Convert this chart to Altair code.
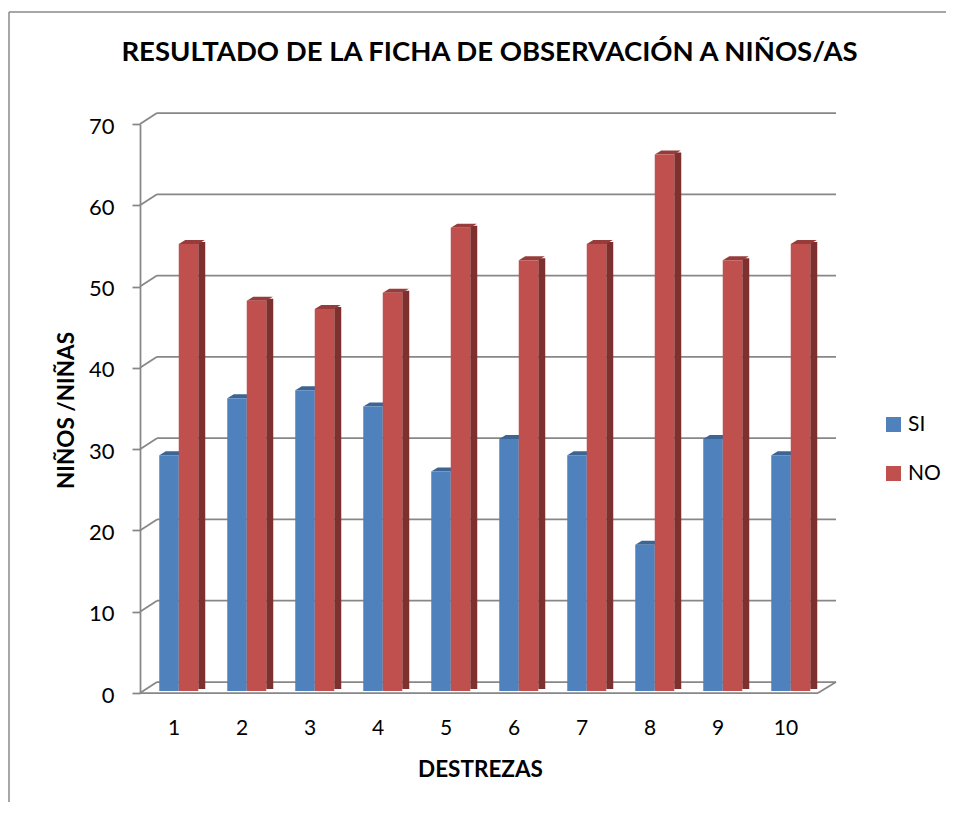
import altair as alt
import pandas as pd

categories = ["1", "2", "3", "4", "5", "6", "7", "8", "9", "10"]
si_values = [29, 36, 37, 35, 27, 31, 29, 18, 31, 29]
no_values = [55, 48, 47, 49, 57, 53, 55, 66, 53, 55]
series_names = ["SI", "NO"]
y_ticks = [0, 10, 20, 30, 40, 50, 60, 70]
title_text = "RESULTADO DE LA FICHA DE OBSERVACIÓN A NIÑOS/AS"
x_title = "DESTREZAS"
y_title = "NIÑOS /NIÑAS"

front_colors = ["#4F81BD", "#C0504D"]
side_colors = ["#345A88", "#7E302F"]
top_colors = ["#3C6494", "#973C3A"]

FONT = "Lato"
GRAY = "#878787"
W, H = 680, 569

rows = []
for i, c in enumerate(categories):
    rows.append({"cat": c, "serie": "SI", "value": si_values[i]})
    rows.append({"cat": c, "serie": "NO", "value": no_values[i]})
df = pd.DataFrame(rows)
grid_df = pd.DataFrame({"value": y_ticks})
one = pd.DataFrame({"value": [0]})

yscale = alt.Scale(domain=[0, 70], nice=False, zero=True)

x_axis = alt.Axis(
    labelFont=FONT, labelFontSize=21, labelColor="#000000", labelAngle=0,
    labelPadding=35, labelBaseline="middle", ticks=False, tickSize=0, domain=False,
    title=x_title, titleFont=FONT, titleFontSize=22.5, titleFontWeight="bold",
    titleColor="#000000", titleY=76, titleBaseline="middle",
)
y_axis = alt.Axis(
    values=y_ticks, labelFont=FONT, labelFontSize=22, labelColor="#000000",
    labelPadding=18, labelOffset=2, labelBaseline="middle",
    tickSize=8, tickColor=GRAY, tickWidth=1.75, domainColor=GRAY, domainWidth=1.75,
    grid=False,
    title=y_title, titleFont=FONT, titleFontSize=22.5, titleFontWeight="bold",
    titleColor="#000000", titleAngle=270, titleX=-74, titleY=286,
    titleAlign="center", titleBaseline="middle",
)

X = alt.X("cat:O", sort=categories, axis=x_axis,
          scale=alt.Scale(paddingInner=0, paddingOuter=0))
Y = alt.Y("value:Q", scale=yscale, axis=y_axis)

color_enc = alt.Color(
    "serie:N", scale=alt.Scale(domain=series_names, range=front_colors),
    legend=alt.Legend(
        orient="none", legendX=743, legendY=290, title=None,
        symbolType="square", symbolSize=225, symbolStrokeWidth=0,
        labelFont=FONT, labelFontSize=21, labelColor="#000000",
        labelOffset=4, rowPadding=27, padding=0,
    ),
)

# border of chart area (top and left edges)
border_top = alt.Chart(one).mark_rule(color="#8a8a8a", strokeWidth=1.5).encode(
    x=alt.value(-131), x2=alt.value(806), y=alt.value(-112), y2=alt.value(-112)
)
border_left = alt.Chart(one).mark_rule(color="#8a8a8a", strokeWidth=1.5).encode(
    x=alt.value(-131), x2=alt.value(-131), y=alt.value(-112), y2=alt.value(700)
)

# back wall gridlines
grid_back = alt.Chart(grid_df).mark_rule(color=GRAY, strokeWidth=1.75, yOffset=-11).encode(
    x=alt.value(17), x2=alt.value(696), y=Y
)
# side wall slants
grid_side = alt.Chart(grid_df).mark_rule(color=GRAY, strokeWidth=1.75, y2Offset=-11).encode(
    x=alt.value(0), x2=alt.value(17), y=Y, y2="value:Q"
)
# floor front edge
floor_front = alt.Chart(one).mark_rule(color=GRAY, strokeWidth=1.75).encode(
    x=alt.value(0), x2=alt.value(678), y=Y
)
floor_right = alt.Chart(one).mark_rule(color=GRAY, strokeWidth=1.75, y2Offset=-11).encode(
    x=alt.value(678), x2=alt.value(696), y=Y, y2="value:Q"
)

top_path = "M-1,0L0.5,0L1,-0.31L-0.5,-0.31Z"

offsets = {"SI": -5, "NO": 14.5}
side_layers, top_layers, front_layers = [], [], []
for k, s in enumerate(series_names):
    d = df[df.serie == s]
    off = offsets[s]
    side_layers.append(
        alt.Chart(d).mark_bar(width=7, xOffset=off + 9.75 + 3.5, yOffset=-4, y2Offset=-4,
                              color=side_colors[k]).encode(x=X, y=Y)
    )
    top_layers.append(
        alt.Chart(d).mark_point(shape=top_path, filled=True, size=676, opacity=1,
                                strokeWidth=0, xOffset=off + 3.25, yOffset=-2,
                                color=top_colors[k]).encode(x=X, y=Y)
    )
    front_layers.append(
        alt.Chart(d).mark_bar(width=19.5, xOffset=off, yOffset=-2, y2Offset=-2).encode(
            x=X, y=Y, color=color_enc)
    )

title_mark = alt.Chart(one).mark_text(
    text=title_text, font=FONT, fontSize=27.5, fontWeight="bold", color="#000000",
    align="center", baseline="middle",
).encode(x=alt.value(349.5), y=alt.value(-71))

chart = alt.layer(
    border_top, border_left, grid_back, grid_side, floor_front, floor_right,
    *side_layers, *top_layers, *front_layers, title_mark,
).properties(
    width=W, height=H,
    autosize=alt.AutoSizeParams(type="none"),
    padding={"left": 132, "top": 116, "right": 128, "bottom": 109},
    background="white",
).configure_view(stroke=None)

chart.save("out.html", embed_options={"renderer": "svg", "actions": False})
